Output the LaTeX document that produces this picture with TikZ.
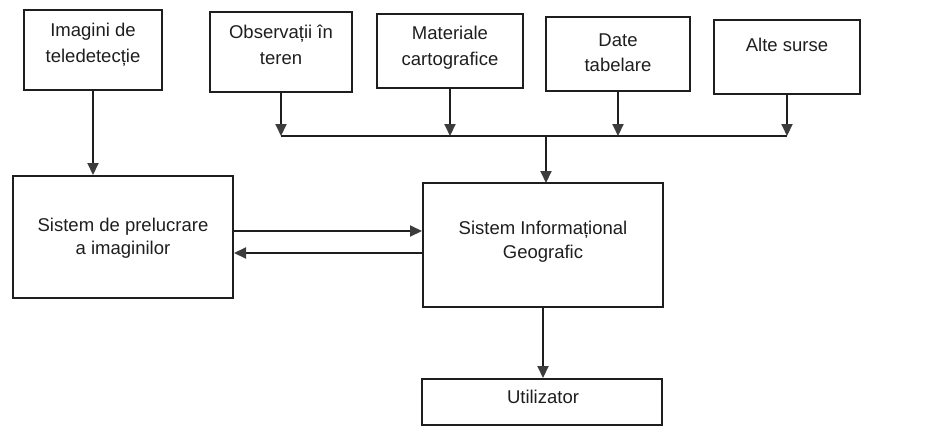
\documentclass[tikz,border=0pt]{standalone}
\usepackage{fontspec}
\setmainfont{Liberation Sans}
\usetikzlibrary{arrows.meta}
\definecolor{ink}{HTML}{1E1E1E}
\definecolor{tipc}{HTML}{3C3C3C}
\tikzset{
  box/.style={draw=ink, line width=2pt, rectangle, inner sep=0pt},
  lbl/.style={inner sep=0pt, align=center, text=ink, font=\fontsize{18.5}{26}\selectfont},
  conn/.style={draw=ink, line width=2pt},
  arr/.style={conn, -{Triangle[length=12pt,width=11pt,fill=tipc,color=tipc]}},
}
\begin{document}
\begin{tikzpicture}[x=1pt,y=-1pt]
\useasboundingbox (0,0) rectangle (948,426);
% top sources
\node[box, minimum width=138, minimum height=80] (img) at (93,50) {};
\node[lbl] (imgt) at (93,45) {Imagini de\\teledetecție};
\node[box, minimum width=142, minimum height=80] (obs) at (281,52) {};
\node[lbl] (obst) at (281,45) {Observații în\\teren};
\node[box, minimum width=146, minimum height=74] (mat) at (450,51) {};
\node[lbl] (matt) at (450,48) {Materiale\\cartografice};
\node[box, minimum width=144, minimum height=74] (date) at (618,54) {};
\node[lbl, font=\fontsize{18.5}{25}\selectfont] (datet) at (618,53) {Date\\tabelare};
\node[box, minimum width=146, minimum height=74] (alte) at (787,57) {};
\node[lbl] (altet) at (787,45) {Alte surse};
% processing
\node[box, minimum width=220, minimum height=122] (prel) at (123,237) {};
\node[lbl, font=\fontsize{18.5}{23}\selectfont] (prelt) at (123,238) {Sistem de prelucrare\\a imaginilor};
\node[box, minimum width=240, minimum height=124] (sig) at (543,245) {};
\node[lbl, font=\fontsize{18.5}{24}\selectfont] (sigt) at (543,242) {Sistem Informațional\\Geografic};
\node[box, minimum width=240, minimum height=46] (util) at (542,402) {};
\node[lbl] (utilt) at (543,397) {Utilizator};
% bus
\coordinate (bus) at (0,136);
\draw[conn] (obs.south |- bus) -- (alte.south |- bus);
\foreach \n in {obs,mat,date,alte}{
  \draw[arr] (\n.south) -- (\n.south |- bus);
}
\draw[arr] (546,136) -- (546,183);
% left chain
\draw[arr] (img.south) -- (img.south |- prel.north);
% two-way
\coordinate (up) at (0,231);
\coordinate (lo) at (0,253);
\draw[arr] (prel.east |- up) -- (sig.west |- up);
\draw[arr] (sig.west |- lo) -- (prel.east |- lo);
% to user
\draw[arr] (sig.south) -- (sig.south |- util.north);
\end{tikzpicture}
\end{document}
